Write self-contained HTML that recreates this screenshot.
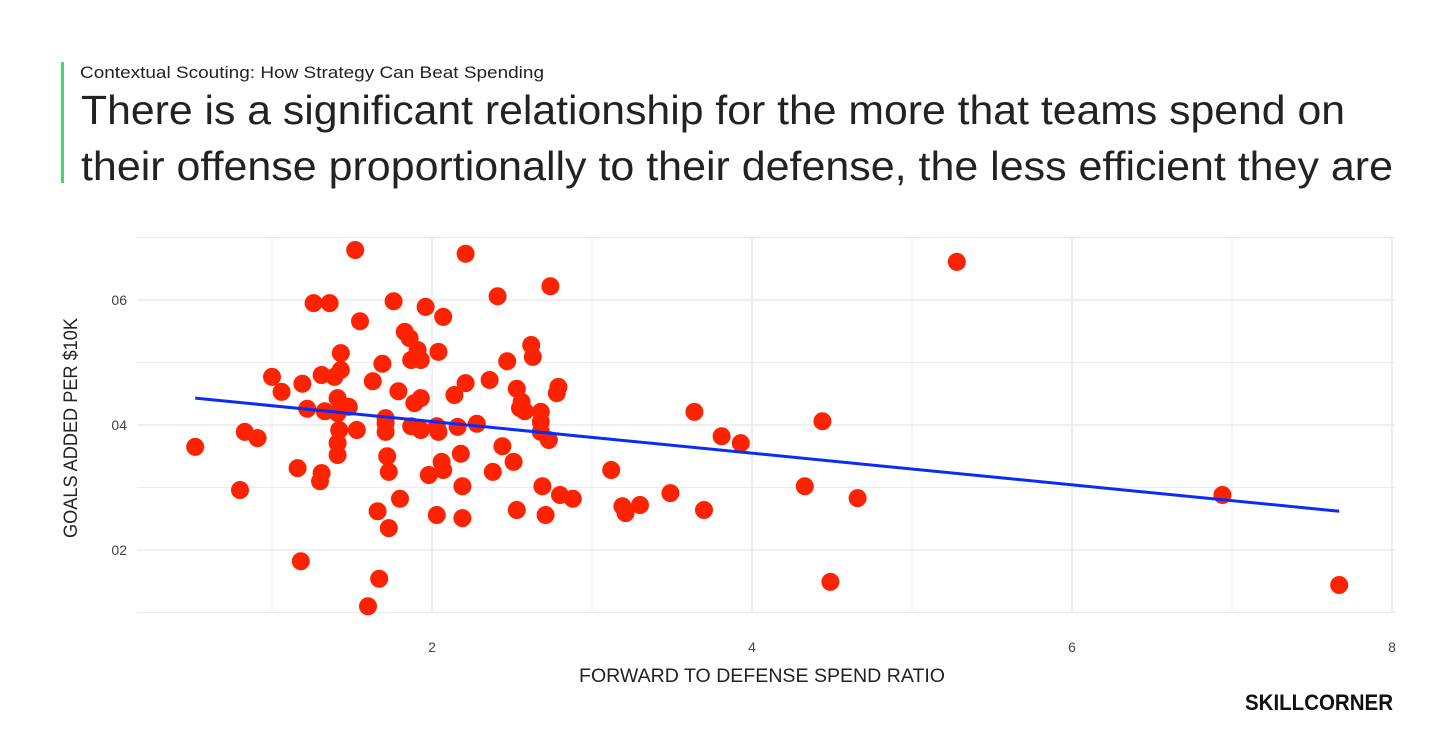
<!DOCTYPE html>
<html><head><meta charset="utf-8"><style>
html,body{margin:0;padding:0;background:#fff;}
svg{display:block;font-family:"Liberation Sans",sans-serif;}
</style></head><body>
<svg id="chart" width="1456" height="747" viewBox="0 0 1456 747">
<rect x="61" y="62" width="3" height="121" fill="#3ddc68"/>
<text x="80" y="78" font-size="17" fill="#222" textLength="464" lengthAdjust="spacingAndGlyphs">Contextual Scouting: How Strategy Can Beat Spending</text>
<text x="81" y="124" font-size="41" fill="#222" font-weight="300" textLength="1264" lengthAdjust="spacingAndGlyphs">There is a significant relationship for the more that teams spend on</text>
<text x="81" y="180" font-size="41" fill="#222" font-weight="300" textLength="1312" lengthAdjust="spacingAndGlyphs">their offense proportionally to their defense, the less efficient they are</text>
<g id="grid"></g>
<g id="ticks"></g>
<g id="marks"></g>
<text x="762" y="682" font-size="19" fill="#222" text-anchor="middle" textLength="366" lengthAdjust="spacingAndGlyphs">FORWARD TO DEFENSE SPEND RATIO</text>
<text transform="translate(77,428) rotate(-90)" font-size="19" fill="#222" text-anchor="middle" textLength="220" lengthAdjust="spacingAndGlyphs">GOALS ADDED PER $10K</text>
<text x="1245" y="710" font-size="22" font-weight="bold" fill="#111" textLength="148" lengthAdjust="spacingAndGlyphs">SKILLCORNER</text>
</svg>
<script>
const xTicks=[2,4,6,8];
const xTickLabels=["2","4","6","8"];
const yTicks=[2,4,6];
const yTickLabels=["02","04","06"];
const xs=[0.52,0.80,0.83,0.91,1.00,1.06,1.16,1.18,1.19,1.22,1.26,1.30,1.31,1.31,1.33,1.36,1.39,1.41,1.41,1.41,1.42,1.41,1.43,1.43,1.48,1.52,1.53,1.55,1.60,1.63,1.66,1.67,1.69,1.71,1.71,1.71,1.72,1.73,1.73,1.76,1.79,1.80,1.83,1.86,1.87,1.87,1.89,1.91,1.93,1.93,1.93,1.96,1.98,2.03,2.03,2.04,2.04,2.06,2.07,2.07,2.14,2.16,2.18,2.19,2.19,2.21,2.21,2.28,2.36,2.38,2.41,2.44,2.47,2.51,2.53,2.53,2.55,2.56,2.58,2.62,2.63,2.68,2.68,2.68,2.69,2.71,2.73,2.74,2.78,2.79,2.80,2.88,3.12,3.19,3.21,3.30,3.49,3.64,3.70,3.81,3.93,4.33,4.44,4.49,4.66,5.28,6.94,7.67];
const ys=[3.65,2.96,3.89,3.79,4.77,4.53,3.31,1.82,4.66,4.26,5.95,3.10,3.23,4.80,4.22,5.95,4.77,3.52,3.71,4.43,3.92,4.19,5.15,4.88,4.29,6.80,3.92,5.66,1.10,4.70,2.62,1.54,4.98,4.03,3.89,4.11,3.50,3.25,2.35,5.98,4.54,2.82,5.49,5.39,5.04,3.98,4.35,5.20,5.04,3.92,4.43,5.89,3.20,3.98,2.56,5.17,3.89,3.41,5.73,3.28,4.48,3.97,3.54,3.02,2.51,4.67,6.74,4.02,4.72,3.25,6.06,3.66,5.02,3.41,4.58,2.64,4.27,4.37,4.22,5.28,5.09,4.21,4.05,3.89,3.02,2.56,3.76,6.22,4.51,4.61,2.88,2.82,3.28,2.70,2.59,2.72,2.91,4.21,2.64,3.82,3.71,3.02,4.06,1.49,2.83,6.61,2.88,1.44];
const trendX=[0.52,7.67];
const trendY=[4.43,2.62];

const NS="http://www.w3.org/2000/svg";
const X=v=>112+v*160;
const Y=v=>675-v*62.5;
const L=137,R=1395,T=237,B=612;
function mk(tag,attrs,parent){const e=document.createElementNS(NS,tag);for(const k in attrs)e.setAttribute(k,attrs[k]);parent.appendChild(e);return e;}
const grid=document.getElementById('grid'),ticks=document.getElementById('ticks'),marks=document.getElementById('marks');
for(let v=1;v<=8;v++){
  const l=mk('line',{x1:X(v),x2:X(v),y1:T,y2:B,stroke:'#ebebeb','stroke-width':v%2?1:1.6},grid);
  
  
}
for(let v=1;v<=7;v++){
  const l=mk('line',{x1:L,x2:R,y1:Y(v),y2:Y(v),stroke:'#ebebeb','stroke-width':v%2?1:1.6},grid);
  
  
}
xTicks.forEach((v,i)=>{
  const t=mk('text',{x:X(v),y:652,'font-size':14,fill:'#444','text-anchor':'middle'},ticks);
  t.textContent=xTickLabels[i];
  
  
});
yTicks.forEach((v,i)=>{
  const t=mk('text',{x:127,y:Y(v)+5,'font-size':14,fill:'#444','text-anchor':'end'},ticks);
  t.textContent=yTickLabels[i];
  
  
});
const n=Math.min(xs.length,ys.length);
for(let i=0;i<n;i++){
  const c=mk('circle',{cx:X(xs[i]),cy:Y(ys[i]),r:9,fill:'#ff2200'},marks);
  
  
}
const tl=mk('line',{x1:X(trendX[0]),y1:Y(trendY[0]),x2:X(trendX[1]),y2:Y(trendY[1]),stroke:'#0a2cf5','stroke-width':3},marks);


</script>
</body></html>
